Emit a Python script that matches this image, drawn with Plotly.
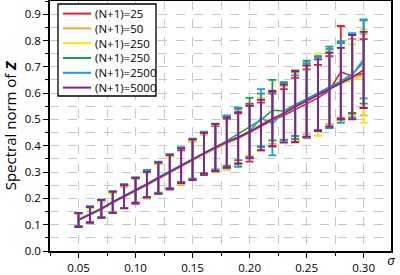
import plotly.graph_objects as go

sigma = [0.05, 0.06, 0.07, 0.08, 0.09, 0.10, 0.11, 0.12, 0.13, 0.14, 0.15, 0.16, 0.17,
         0.18, 0.19, 0.20, 0.21, 0.22, 0.23, 0.24, 0.25, 0.26, 0.27, 0.28, 0.29, 0.30]

labels = ["(N+1)=25", "(N+1)=50", "(N+1)=250", "(N+1)=250", "(N+1)=2500", "(N+1)=5000"]
colors = ["#e8202a", "#f7a631", "#f6e30f", "#1c9e4a", "#1f9be0", "#8e1b8f"]

mean_25 = [0.118, 0.137, 0.159, 0.184, 0.205, 0.229, 0.252, 0.276, 0.298, 0.322, 0.345, 0.368, 0.390,
           0.410, 0.428, 0.450, 0.474, 0.498, 0.515, 0.538, 0.560, 0.582, 0.610, 0.680, 0.665, 0.675]
mean_50 = [0.117, 0.136, 0.158, 0.183, 0.204, 0.228, 0.251, 0.274, 0.297, 0.321, 0.344, 0.367, 0.389,
           0.408, 0.432, 0.455, 0.480, 0.505, 0.525, 0.552, 0.575, 0.598, 0.620, 0.642, 0.655, 0.670]
mean_250a = [0.117, 0.137, 0.159, 0.184, 0.206, 0.229, 0.252, 0.275, 0.299, 0.323, 0.346, 0.369, 0.391,
             0.410, 0.434, 0.458, 0.482, 0.506, 0.523, 0.548, 0.572, 0.594, 0.618, 0.633, 0.650, 0.665]
mean_250b = [0.119, 0.139, 0.161, 0.186, 0.208, 0.231, 0.255, 0.279, 0.302, 0.326, 0.349, 0.373, 0.397,
             0.418, 0.445, 0.470, 0.498, 0.535, 0.532, 0.556, 0.578, 0.600, 0.622, 0.645, 0.672, 0.718]
mean_2500 = [0.120, 0.140, 0.162, 0.187, 0.209, 0.232, 0.256, 0.280, 0.303, 0.327, 0.350, 0.374, 0.395,
             0.415, 0.430, 0.455, 0.505, 0.483, 0.528, 0.552, 0.574, 0.597, 0.618, 0.642, 0.668, 0.730]
mean_5000 = [0.118, 0.138, 0.160, 0.185, 0.206, 0.230, 0.253, 0.277, 0.300, 0.324, 0.347, 0.371, 0.393,
             0.412, 0.430, 0.452, 0.478, 0.503, 0.522, 0.548, 0.570, 0.592, 0.613, 0.636, 0.660, 0.688]

err_25 = [0.025, 0.031, 0.030, 0.038, 0.042, 0.050, 0.052, 0.055, 0.065, 0.060, 0.072, 0.080, 0.085,
          0.092, 0.095, 0.110, 0.090, 0.100, 0.100, 0.120, 0.130, 0.125, 0.130, 0.175, 0.140, 0.130]
err_50 = [0.024, 0.028, 0.032, 0.036, 0.040, 0.045, 0.047, 0.058, 0.062, 0.070, 0.075, 0.074, 0.088,
          0.100, 0.105, 0.100, 0.098, 0.098, 0.102, 0.125, 0.132, 0.140, 0.140, 0.150, 0.150, 0.155]
err_250a = [0.026, 0.027, 0.031, 0.037, 0.043, 0.044, 0.049, 0.056, 0.060, 0.067, 0.070, 0.076, 0.092,
            0.098, 0.110, 0.095, 0.100, 0.104, 0.106, 0.128, 0.138, 0.156, 0.145, 0.140, 0.135, 0.177]
err_250b = [0.025, 0.029, 0.033, 0.040, 0.045, 0.048, 0.050, 0.057, 0.066, 0.064, 0.074, 0.077, 0.087,
            0.094, 0.100, 0.112, 0.100, 0.115, 0.110, 0.130, 0.145, 0.140, 0.155, 0.145, 0.150, 0.158]
err_2500 = [0.025, 0.030, 0.034, 0.040, 0.045, 0.048, 0.052, 0.060, 0.063, 0.068, 0.077, 0.080, 0.088,
            0.100, 0.110, 0.098, 0.110, 0.120, 0.108, 0.115, 0.140, 0.140, 0.150, 0.155, 0.160, 0.150]
err_5000 = [0.027, 0.030, 0.034, 0.041, 0.044, 0.047, 0.048, 0.060, 0.064, 0.066, 0.078, 0.078, 0.090,
            0.095, 0.098, 0.100, 0.096, 0.105, 0.110, 0.135, 0.135, 0.136, 0.140, 0.136, 0.160, 0.145]

means = [mean_25, mean_50, mean_250a, mean_250b, mean_2500, mean_5000]
errs = [err_25, err_50, err_250a, err_250b, err_2500, err_5000]

FONT = "Open Sans"
fig = go.Figure()
for lab, col, m, e in zip(labels, colors, means, errs):
    fig.add_trace(go.Scatter(
        x=sigma, y=m, mode="lines", name=lab,
        line=dict(color=col, width=1.6),
        error_y=dict(type="data", array=e, visible=True, color=col, thickness=1.8, width=4),
        showlegend=False,
    ))
# empty helper trace so the overlaid axis carrying the σ label is drawn
fig.add_trace(go.Scatter(x=[], y=[], xaxis="x2", showlegend=False, hoverinfo="skip"))

# plot-area geometry in pixels (for the hand-made legend)
L, R, T, B = 50, 9, 1, 24
W, H = 400, 275
pw, ph = W - L - R, H - T - B

def fx(px):
    return (px - L) / pw

def fy(py):
    return 1 - (py - T) / ph

shapes = [dict(type="rect", xref="paper", yref="paper",
               x0=fx(58), x1=fx(156), y0=fy(96), y1=fy(4),
               line=dict(color="black", width=1.3), fillcolor="white", layer="above")]
annotations = []
row0, dy = 13.6, 14.8
for i, (lab, col) in enumerate(zip(labels, colors)):
    yy = row0 + i * dy
    shapes.append(dict(type="line", xref="paper", yref="paper",
                       x0=fx(63), x1=fx(91), y0=fy(yy), y1=fy(yy),
                       line=dict(color=col, width=2), layer="above"))
    annotations.append(dict(xref="paper", yref="paper", x=fx(93), y=fy(yy),
                            xanchor="left", yanchor="middle", text=lab, showarrow=False,
                            font=dict(family=FONT, size=11.5, color="black")))

grid = dict(showgrid=True, gridcolor="#c8c8c8", griddash="dash", gridwidth=1)

fig.update_layout(
    width=W, height=H,
    margin=dict(l=L, r=R, t=T, b=B, pad=0),
    plot_bgcolor="white", paper_bgcolor="white",
    font=dict(family=FONT, size=11.5, color="black"),
    shapes=shapes, annotations=annotations,
    xaxis=dict(range=[0.025, 0.324], dtick=0.05, tick0=0.05, tickformat=".2f",
               ticks="outside", ticklen=5, tickwidth=1.2, tickcolor="black",
               showline=True, linecolor="black", linewidth=1.5, mirror=True,
               zeroline=False, tickfont=dict(size=11.5), automargin=False,
               minor=dict(dtick=0.025, tick0=0.025, ticks="outside", ticklen=3,
                          tickcolor="black", showgrid=True, gridcolor="#c8c8c8", griddash="dash"),
               **grid),
    xaxis2=dict(overlaying="x", side="bottom", anchor="y", range=[0, 1],
                tickmode="array", tickvals=[1.0], ticktext=["<i>σ</i>"],
                ticks="", showgrid=False, zeroline=False, showline=False, automargin=False,
                tickfont=dict(family=FONT, size=13, color="black")),
    yaxis=dict(range=[0, 0.95], dtick=0.1, tick0=0, tickformat=".1f",
               ticks="outside", ticklen=5, tickwidth=1.2, tickcolor="black",
               showline=True, linecolor="black", linewidth=1.5, mirror=True,
               zeroline=False, tickfont=dict(size=11.5),
               title=dict(text="Spectral norm of <b><i>Z</i></b>", font=dict(size=15), standoff=5),
               minor=dict(dtick=0.05, tick0=0, ticks="outside", ticklen=3,
                          tickcolor="black", showgrid=True, gridcolor="#c8c8c8", griddash="dash"),
               **grid),
)

fig.write_html("out.html", config={"displayModeBar": False},
               post_script="document.body.style.margin='0';document.body.style.padding='0';")
